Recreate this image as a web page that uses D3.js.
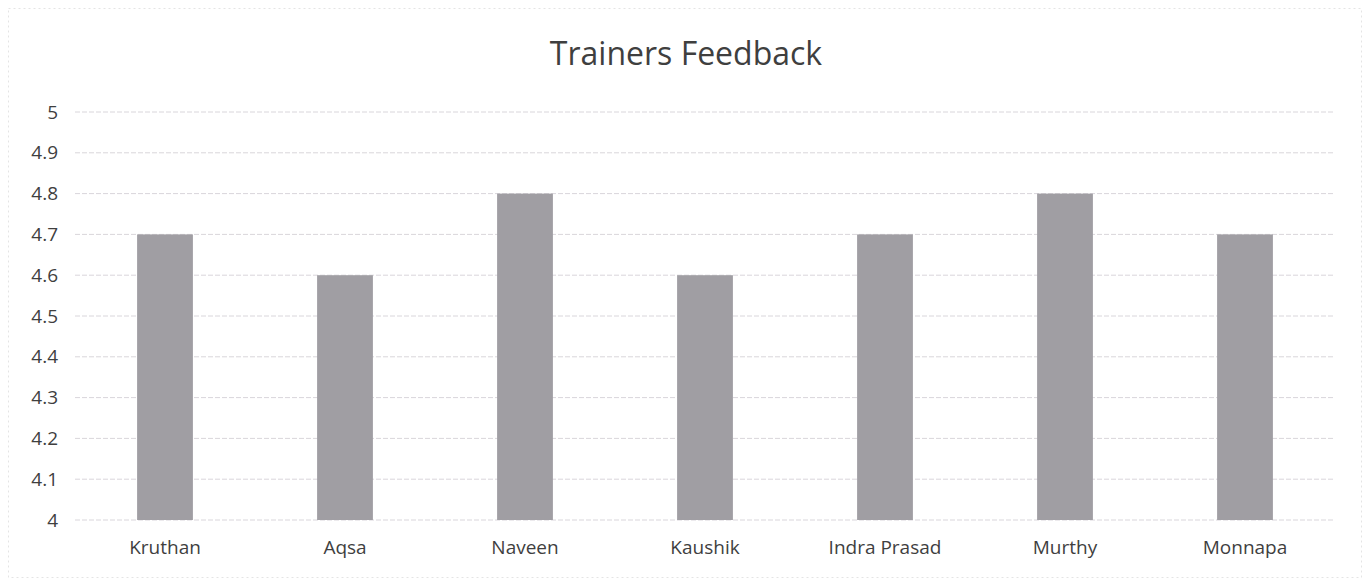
<!DOCTYPE html>
<html><head><meta charset="utf-8">
<script src="https://cdn.jsdelivr.net/npm/d3@7"></script>
<style>
html,body{margin:0;padding:0;background:#fff;}
svg{display:block;}
svg text{font-family:"Open Sans","Liberation Sans",sans-serif;}
</style></head>
<body>
<svg id="chart" width="1370" height="584"></svg>
<script>
const categories = ["Kruthan","Aqsa","Naveen","Kaushik","Indra Prasad","Murthy","Monnapa"];
const values = [4.7,4.6,4.8,4.6,4.7,4.8,4.7];
const yTicks = [4,4.1,4.2,4.3,4.4,4.5,4.6,4.7,4.8,4.9,5];
const title = "Trainers Feedback";

const svg = d3.select("#chart");
const W = 1370, H = 584;
const m = {left:75, right:35, top:112, bottom:64};
const FONT = '"Open Sans","Liberation Sans",sans-serif';

svg.append("rect").attr("x",8.5).attr("y",8.5).attr("width",W-17).attr("height",H-15)
  .attr("fill","none").attr("stroke","#e4e4e4").attr("stroke-dasharray","2,3");

const x = d3.scaleBand().domain(categories).range([m.left, W-m.right]).paddingInner(0.69).paddingOuter(0.345);
const y = d3.scaleLinear().domain([4,5]).range([H-m.bottom, m.top]);

// gridlines
svg.append("g").selectAll("line").data(yTicks).join("line")
  .attr("x1",m.left).attr("x2",W-m.right)
  .attr("y1",d=>y(d)).attr("y2",d=>y(d))
  .attr("stroke","#d9d6db").attr("stroke-width",1).attr("stroke-dasharray","5,2");

// y axis
const yAxis = d3.axisLeft(y).tickValues(yTicks).tickFormat(d=>d3.format("")(+d.toFixed(1))).tickSize(0).tickPadding(17);
const gy = svg.append("g").attr("transform",`translate(${m.left},0)`).call(yAxis)
  .attr("font-family",FONT);
gy.select(".domain").remove();
gy.selectAll("text").attr("font-size",19).attr("fill","#3f3f3f");

// bars
svg.append("g").selectAll("rect").data(values).join("rect")
  .attr("x",(d,i)=>x(categories[i]))
  .attr("width",x.bandwidth())
  .attr("y",d=>y(d))
  .attr("height",d=>y(4)-y(d))
  .attr("fill","#a09ea3");

// x axis
const xAxis = d3.axisBottom(x).tickSize(0).tickPadding(21);
const gx = svg.append("g").attr("transform",`translate(0,${y(4)})`).call(xAxis)
  .attr("font-family",FONT);
gx.select(".domain").remove();
gx.selectAll("text").attr("font-size",19).attr("fill","#3f3f3f");

// title
svg.append("text").attr("x",686).attr("y",65)
  .attr("text-anchor","middle").attr("font-size",32).attr("fill","#3f3f3f").text(title);
</script>
</body></html>
